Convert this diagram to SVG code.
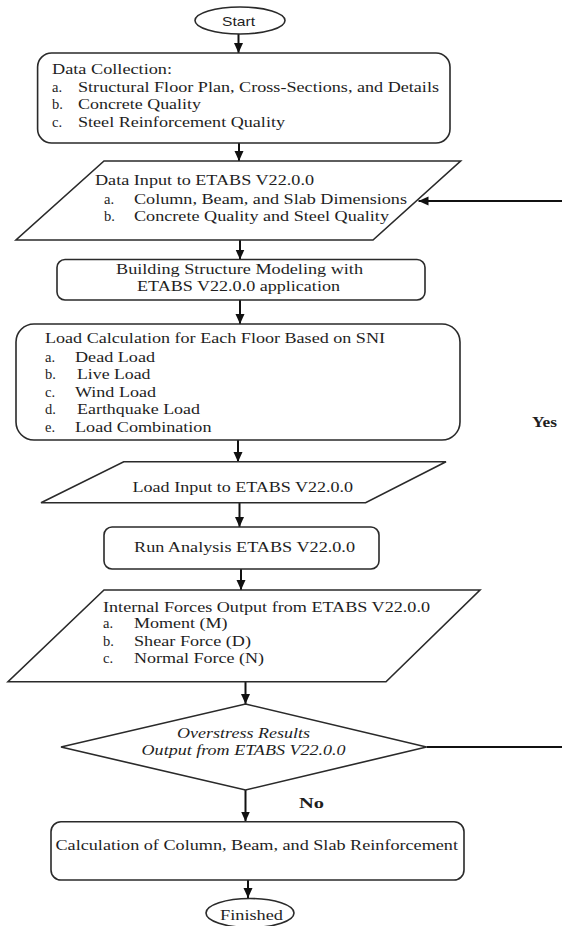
<svg xmlns="http://www.w3.org/2000/svg" width="562" height="926" viewBox="0 0 562 926">
<style>
.shape{fill:#ffffff;stroke:#2a2a2a;stroke-width:1.6}
.t{font-family:"Liberation Serif","Times New Roman",serif;font-size:14.5px;fill:#1e1e1e}
.s{font-family:"Liberation Sans",Arial,sans-serif;font-size:13px;fill:#1e1e1e}
.i{font-style:italic}
.b{font-weight:bold}
.conn{fill:none;stroke:#111111;stroke-width:2}
</style>
<defs>
<marker id="arr" markerUnits="userSpaceOnUse" markerWidth="10" markerHeight="10" viewBox="0 0 10 10" refX="10" refY="5" orient="auto">
<path d="M0,0.5 L10,5 L0,9.5 Z" fill="#111111"/>
</marker>
</defs>
<rect width="562" height="926" fill="#ffffff"/>

<g id="connectors">
<line class="conn" x1="238.5" y1="34" x2="238.5" y2="53" marker-end="url(#arr)"/>
<line class="conn" x1="239" y1="143" x2="239" y2="161" marker-end="url(#arr)"/>
<line class="conn" x1="240" y1="240" x2="240" y2="259.5" marker-end="url(#arr)"/>
<line class="conn" x1="240" y1="300" x2="240" y2="324" marker-end="url(#arr)"/>
<line class="conn" x1="238" y1="440" x2="238" y2="462" marker-end="url(#arr)"/>
<line class="conn" x1="239.5" y1="503" x2="239.5" y2="527" marker-end="url(#arr)"/>
<line class="conn" x1="241" y1="569" x2="241" y2="590" marker-end="url(#arr)"/>
<line class="conn" x1="245.5" y1="682" x2="245.5" y2="704" marker-end="url(#arr)"/>
<line class="conn" x1="245.5" y1="790" x2="245.5" y2="821.5" marker-end="url(#arr)"/>
<line class="conn" x1="248" y1="880" x2="248" y2="898" marker-end="url(#arr)"/>
<path class="conn" d="M426.5,747 H564 V201 H418.5" marker-end="url(#arr)"/>
<text class="t b" x="532" y="427" textLength="25" lengthAdjust="spacingAndGlyphs">Yes</text>
<text class="t b" x="299" y="808" textLength="25" lengthAdjust="spacingAndGlyphs">No</text>
</g>

<g id="start">
<ellipse class="shape" cx="240" cy="20.5" rx="45" ry="13.5"/>
<text class="s" x="222" y="26" textLength="33" lengthAdjust="spacingAndGlyphs">Start</text>
</g>

<g id="data-collection">
<rect class="shape" x="37.6" y="53" width="412.4" height="90" rx="14"/>
<text class="t" x="52" y="74" textLength="120" lengthAdjust="spacingAndGlyphs">Data Collection:</text>
<text class="t" x="52" y="91.5">a.</text>
<text class="t" x="78" y="91.5" textLength="361" lengthAdjust="spacingAndGlyphs">Structural Floor Plan, Cross-Sections, and Details</text>
<text class="t" x="52" y="109">b.</text>
<text class="t" x="78" y="109" textLength="123" lengthAdjust="spacingAndGlyphs">Concrete Quality</text>
<text class="t" x="52" y="126.5">c.</text>
<text class="t" x="78" y="126.5" textLength="207" lengthAdjust="spacingAndGlyphs">Steel Reinforcement Quality</text>
</g>

<g id="data-input">
<polygon class="shape" points="104,161 460.6,161 373,240 16,240"/>
<text class="t" x="95" y="185" textLength="219" lengthAdjust="spacingAndGlyphs">Data Input to ETABS V22.0.0</text>
<text class="t" x="104" y="203.5">a.</text>
<text class="t" x="134" y="203.5" textLength="273" lengthAdjust="spacingAndGlyphs">Column, Beam, and Slab Dimensions</text>
<text class="t" x="104" y="221">b.</text>
<text class="t" x="134" y="221" textLength="255" lengthAdjust="spacingAndGlyphs">Concrete Quality and Steel Quality</text>
</g>

<g id="modeling">
<rect class="shape" x="57" y="259.5" width="368" height="40.5" rx="8"/>
<text class="t" x="116" y="273.5" textLength="247" lengthAdjust="spacingAndGlyphs">Building Structure Modeling with</text>
<text class="t" x="137" y="291" textLength="203" lengthAdjust="spacingAndGlyphs">ETABS V22.0.0 application</text>
</g>

<g id="load-calculation">
<rect class="shape" x="16" y="324" width="444" height="116" rx="18"/>
<text class="t" x="45" y="343" textLength="340" lengthAdjust="spacingAndGlyphs">Load Calculation for Each Floor Based on SNI</text>
<text class="t" x="45" y="361.5">a.</text>
<text class="t" x="75" y="361.5" textLength="80" lengthAdjust="spacingAndGlyphs">Dead Load</text>
<text class="t" x="45" y="379">b.</text>
<text class="t" x="77" y="379" textLength="73.5" lengthAdjust="spacingAndGlyphs">Live Load</text>
<text class="t" x="45" y="396.7">c.</text>
<text class="t" x="75" y="396.7" textLength="81" lengthAdjust="spacingAndGlyphs">Wind Load</text>
<text class="t" x="45" y="414.3">d.</text>
<text class="t" x="77" y="414.3" textLength="123" lengthAdjust="spacingAndGlyphs">Earthquake Load</text>
<text class="t" x="45" y="431.7">e.</text>
<text class="t" x="75" y="431.7" textLength="136.5" lengthAdjust="spacingAndGlyphs">Load Combination</text>
</g>

<g id="load-input">
<polygon class="shape" points="123.7,461.7 446,461.7 365.6,502.7 41,502.7"/>
<text class="t" x="132.6" y="491.7" textLength="220.5" lengthAdjust="spacingAndGlyphs">Load Input to ETABS V22.0.0</text>
</g>

<g id="run-analysis">
<rect class="shape" x="104" y="527" width="275" height="42" rx="8"/>
<text class="t" x="134" y="551.7" textLength="221" lengthAdjust="spacingAndGlyphs">Run Analysis ETABS V22.0.0</text>
</g>

<g id="internal-forces">
<polygon class="shape" points="104,590 480,590 386,681.7 8,681.7"/>
<text class="t" x="103" y="611.7" textLength="327" lengthAdjust="spacingAndGlyphs">Internal Forces Output from ETABS V22.0.0</text>
<text class="t" x="103" y="628.3">a.</text>
<text class="t" x="134" y="628.3" textLength="93.6" lengthAdjust="spacingAndGlyphs">Moment (M)</text>
<text class="t" x="103" y="646">b.</text>
<text class="t" x="134" y="646" textLength="117" lengthAdjust="spacingAndGlyphs">Shear Force (D)</text>
<text class="t" x="103" y="663.3">c.</text>
<text class="t" x="134" y="663.3" textLength="130" lengthAdjust="spacingAndGlyphs">Normal Force (N)</text>
</g>

<g id="overstress">
<polygon class="shape" points="245.5,704 426.5,747 245.5,790 61,747"/>
<text class="t i" x="177" y="738.3" textLength="133" lengthAdjust="spacingAndGlyphs">Overstress Results</text>
<text class="t i" x="141.6" y="755" textLength="204" lengthAdjust="spacingAndGlyphs">Output from ETABS V22.0.0</text>
</g>

<g id="reinforcement">
<rect class="shape" x="51" y="821.7" width="413" height="58.3" rx="10"/>
<text class="t" x="55.5" y="850" textLength="402.5" lengthAdjust="spacingAndGlyphs">Calculation of Column, Beam, and Slab Reinforcement</text>
</g>

<g id="finished">
<ellipse class="shape" cx="250" cy="913" rx="44" ry="14.5"/>
<text class="t" x="220" y="920" textLength="63" lengthAdjust="spacingAndGlyphs">Finished</text>
</g>
</svg>
